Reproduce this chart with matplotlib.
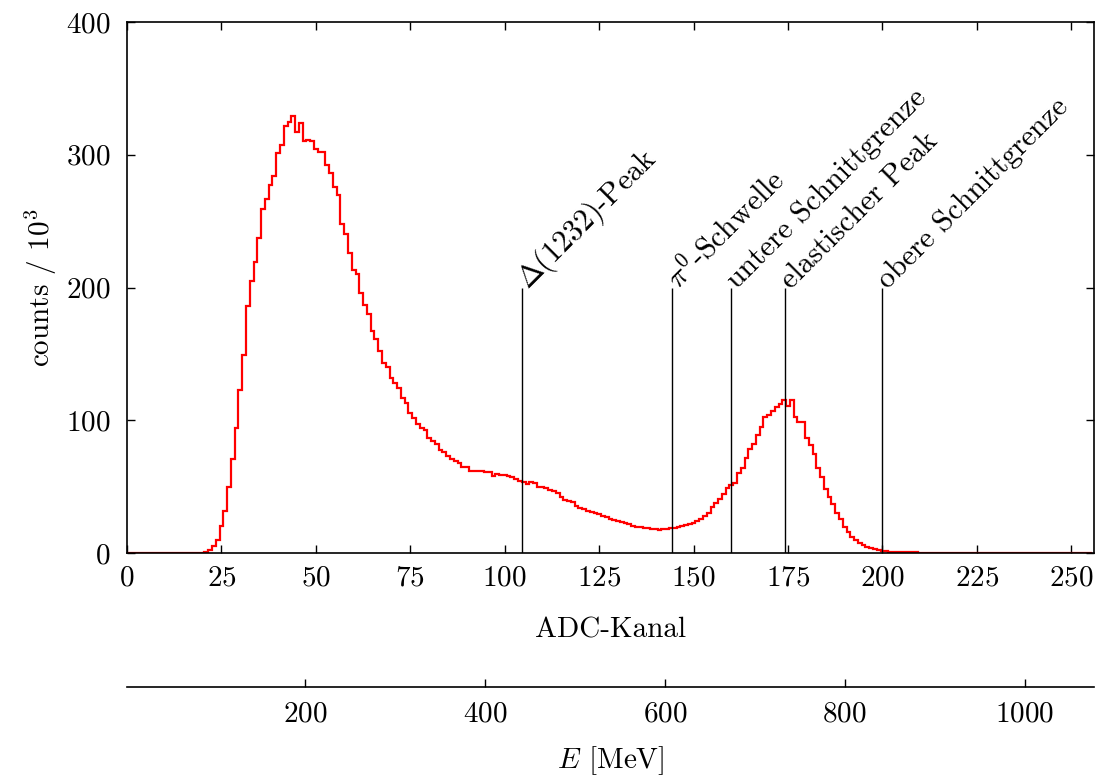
import numpy as np
import matplotlib
matplotlib.use("Agg")
import matplotlib.pyplot as plt

plt.rcParams['font.family'] = ['cmr10']
plt.rcParams['mathtext.fontset'] = 'cm'
plt.rcParams['axes.formatter.use_mathtext'] = True

# ---- data (counts / 10^3 per ADC channel, channel 0..255) ----
channels = np.arange(256)
counts = [
    0, 0, 0, 0, 0, 0, 0, 0, 0, 0,
    0, 0, 0, 0, 0, 0, 0, 0, 0, 0.1,
    0.3, 0.9, 2, 5, 10, 20, 32, 50, 71, 94,
    123, 149, 186, 205, 219, 237, 259, 267, 277, 284,
    301, 307, 322, 325, 329, 317, 324, 310, 311, 310,
    304, 302, 302, 292, 286, 276, 270, 248, 240, 226,
    213, 210, 196, 187, 180, 167, 161, 152, 143, 140,
    132, 128, 124, 116.5, 112.7, 105.7, 101.4, 97.2, 94, 92.7,
    86.4, 84.6, 82, 77.6, 76.3, 73, 70.6, 69.5, 67.5, 65,
    65, 62, 62, 62, 61.5, 61, 61, 58, 59.5, 59,
    59, 58, 57, 55.5, 54.2, 53.3, 52, 53.7, 52.5, 50,
    50, 48.7, 47.5, 47, 45.4, 42.4, 40, 39.2, 38.7, 35.4,
    33.6, 32.9, 31.6, 30.6, 29.9, 29.1, 28.1, 27.4, 25.6, 24.9,
    24.1, 23.6, 22.8, 21.6, 20.6, 19.8, 19.3, 19.1, 18.6, 18.3,
    17.8, 17.3, 17.8, 18, 18.6, 19.2, 19.8, 20.3, 21.1, 21.8,
    22.8, 24.1, 25.6, 27.9, 30.4, 34.9, 37.4, 40.4, 44.4, 48.7,
    51.2, 52.5, 60.5, 63.8, 71.3, 78.3, 82.1, 88.9, 95.2, 102.7,
    104, 107.2, 109.7, 112.2, 115.3, 110.7, 115.3, 102.7, 98.4, 98.4,
    86.9, 81.4, 74.3, 63.8, 57, 48, 41.9, 36.9, 29.9, 25.4,
    19.8, 16.1, 12.3, 9.8, 7.3, 5.8, 4.8, 3.8, 3.0, 2.3,
    1.8, 1.4, 1.1, 0.9, 0.8, 0.7, 0.6, 0.5, 0.45, 0.4,
    0.35, 0.3, 0.3, 0.25, 0.25, 0.2, 0.2, 0.2, 0.15, 0.15,
    0.1, 0.1, 0.1, 0.1, 0.1, 0.1, 0.08, 0.08, 0.08, 0.08,
    0.06, 0.06, 0.06, 0.06, 0.05, 0.05, 0.05, 0.05, 0.05, 0.05,
    0.04, 0.04, 0.04, 0.04, 0.04, 0.04, 0.03, 0.03, 0.03, 0.03,
    0.03, 0.03, 0.03, 0.03, 0.03, 0.03,
]

marker_pos = [104.5, 144.4, 160.0, 174.2, 199.9]
marker_labels = [r'$\Delta$(1232)-Peak', r'$\pi^0$-Schwelle', 'untere Schnittgrenze',
                 'elastischer Peak', 'obere Schnittgrenze']
marker_height = 200

x_ticks = [0, 25, 50, 75, 100, 125, 150, 175, 200, 225, 250]
y_ticks = [0, 100, 200, 300, 400]
e_ticks = [200, 400, 600, 800, 1000]
E_OFFSET, E_PER_CH = 2.0, 4.2

# ---- figure ----
W, H = 1100, 775
fig = plt.figure(figsize=(W / 100, H / 100), dpi=100)
L, R, T, B = 127, 1094, 22, 553
ax = fig.add_axes([L / W, 1 - B / H, (R - L) / W, (B - T) / H])

edges = np.arange(len(counts) + 1) - 0.5
ax.stairs(counts, edges, baseline=None, color='#ff0000', lw=1.6, zorder=2)
ax.vlines(marker_pos, 0, marker_height, color='black', lw=1.0, zorder=3)
for xp, lab in zip(marker_pos, marker_labels):
    ax.annotate(lab, xy=(xp, marker_height), xytext=(4, -1.5),
                textcoords='offset points', rotation=45, rotation_mode='anchor',
                ha='left', va='baseline', fontsize=21.5)

ax.set_xlim(0, 256)
ax.set_ylim(0, 400)
ax.set_xticks(x_ticks)
ax.set_yticks(y_ticks)
ax.tick_params(direction='in', length=6, width=1.0, labelsize=21,
               top=True, right=True)
ax.tick_params(axis='y', pad=12)
ax.tick_params(axis='x', pad=9)
for s in ax.spines.values():
    s.set_linewidth(1.2)
ax.set_xlabel('ADC-Kanal', fontsize=21, labelpad=18)
ax.set_ylabel(r'counts / $10^3$', fontsize=21, labelpad=5)

# energy axis
def ch2e(c):
    return E_OFFSET + E_PER_CH * np.asarray(c)

def e2ch(e):
    return (np.asarray(e) - E_OFFSET) / E_PER_CH

sec = ax.secondary_xaxis(-(687 - B) / (B - T), functions=(ch2e, e2ch))
sec.set_xticks(e_ticks)
sec.tick_params(direction='in', length=6, width=1.0, labelsize=21, pad=10)
sec.spines['bottom'].set_linewidth(1.2)
sec.set_xlabel(r'$E$ [MeV]', fontsize=21, labelpad=12)

fig.savefig('out.png', dpi=100)
